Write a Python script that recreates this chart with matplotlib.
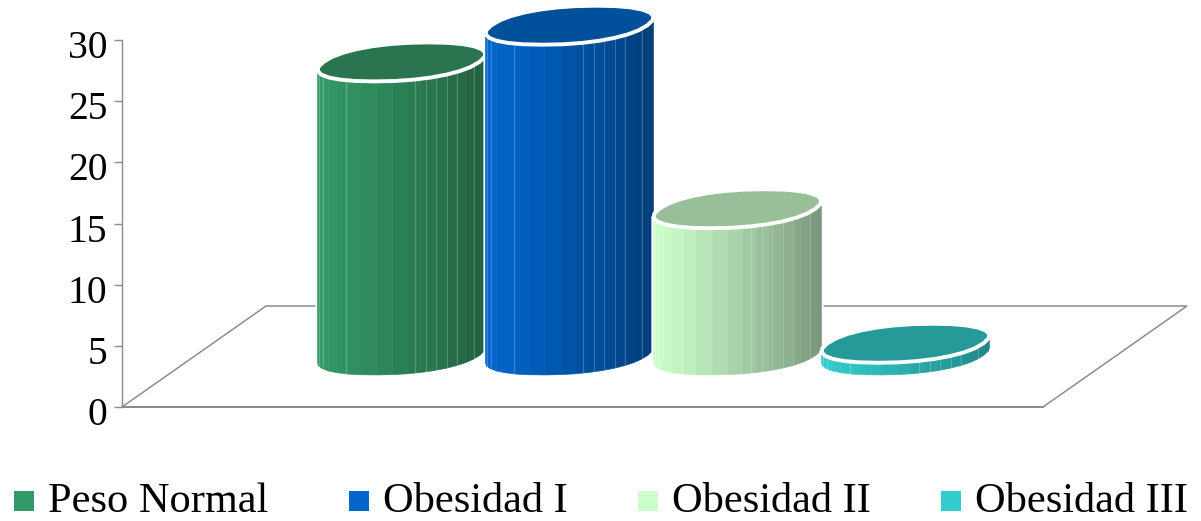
import matplotlib
matplotlib.use('Agg')
import matplotlib.pyplot as plt
from matplotlib.patches import Polygon, Rectangle
from matplotlib.transforms import ScaledTranslation
import numpy as np

categories = ['Peso Normal', 'Obesidad I', 'Obesidad II', 'Obesidad III']
values = [24, 27, 12, 1]
y_ticks = [0, 5, 10, 15, 20, 25, 30]

# colores: cara clara, cara oscura, tapa
light = ['#339966', '#0066CC', '#CCFFCC', '#33CCCC']
dark = ['#225F40', '#003C78', '#78967A', '#1F8585']
top = ['#2A7550', '#00509C', '#99BF99', '#269999']

W, H = 1201, 521
DPI = 100
px_x0, px_x1 = 122, 1187      # ancho de los ejes en pixeles
px_y0, px_y1 = 407, 40        # y=0 y y=30
step = 168.0                  # pixeles entre barras
first = 401.5                 # centro de la primera barra
px_unit = (px_y0 - px_y1) / 30

plt.rcParams['font.family'] = ['Liberation Serif', 'DejaVu Serif']

fig = plt.figure(figsize=(W / DPI, H / DPI), dpi=DPI)
ax = fig.add_axes([px_x0 / W, 1 - px_y0 / H, (px_x1 - px_x0) / W, (px_y0 - px_y1) / H])
ax.set_xlim((px_x0 - first) / step, (px_x1 - first) / step)
ax.set_ylim(0, 30)

# piso en perspectiva
depth_x = 144 / step
depth_y = 101 / px_unit
xa, xb = ax.get_xlim()
floor_x = [xb - depth_x, xa, xa + depth_x, xb, xb - depth_x, xa]
floor_y = [0, 0, depth_y, depth_y, 0, 0]
ax.plot(floor_x, floor_y, color='#8C8C8C', lw=1.1, clip_on=False, zorder=1, solid_joinstyle='miter')

# semiejes de la base del cilindro (proyeccion oblicua del circulo)
rx = 78 / step
sx = 27 / step
ry = 19.5 / px_unit
base = 51.5 / px_unit
power = 0.9                   # extremos algo romos
seam_pos = np.array([-0.98, -0.93, -0.66, 0.16, 0.29, 0.41, 0.54, 0.66, 0.86])


def outline(t):
    c = np.cos(t)
    s = np.sin(t)
    c = np.sign(c) * np.abs(c) ** power
    s = np.sign(s) * np.abs(s) ** power
    return rx * c + sx * s, ry * s


def cylinder(i, val, z):
    # borde visible: del extremo izquierdo al derecho pasando por el frente
    fine = np.linspace(0, 2 * np.pi, 721)
    fx, _ = outline(fine)
    t_right = fine[np.argmax(fx)]
    t_left = fine[np.argmin(fx)]
    if t_left < np.pi:
        t_left += 2 * np.pi
    t = np.linspace(t_left, t_right + 2 * np.pi, 19)
    dx, dy = outline(t)
    xs = i + dx
    y_bot = base + dy
    y_top = base + val + dy

    # silueta blanca que separa la barra de la anterior
    sil = list(zip(xs, y_top)) + list(zip(xs[::-1], y_bot[::-1]))
    ax.add_patch(Polygon(sil, closed=True, fc='white', ec='white', lw=3.0, zorder=z, clip_on=False))

    c0 = np.array(matplotlib.colors.to_rgb(light[i]))
    c1 = np.array(matplotlib.colors.to_rgb(dark[i]))
    mids = (dx[:-1] + dx[1:]) / 2
    frac = (mids - dx[0]) / (dx[-1] - dx[0])
    for k in range(len(xs) - 1):
        col = c0 + (c1 - c0) * frac[k] ** 1.2
        quad = [(xs[k], y_top[k]), (xs[k + 1], y_top[k + 1]), (xs[k + 1], y_bot[k + 1]), (xs[k], y_bot[k])]
        ax.add_patch(Polygon(quad, closed=True, fc=col, ec=col, lw=0.4, zorder=z + 0.1, clip_on=False))

    # lineas claras entre algunas caras
    half = dx[-1]
    for p in seam_pos:
        xp = p * half
        yp = np.interp(xp, dx, dy)
        ax.plot([i + xp, i + xp], [base + yp, base + val + yp], color='white', alpha=0.22,
                lw=0.8, zorder=z + 0.2, clip_on=False)

    # tapa
    tt = np.linspace(0, 2 * np.pi, 29)
    cx, cy = outline(tt)
    ax.add_patch(Polygon(list(zip(i + cx, base + val + cy)), closed=True, fc=top[i], ec='white',
                         lw=2.8, zorder=z + 0.3, clip_on=False, joinstyle='round'))


for i, v in enumerate(values):
    cylinder(i, v, 2 + i)

ax.set_xticks([])
ax.set_yticks(y_ticks)
ax.tick_params(axis='y', labelsize=28.5, length=5.5, width=1.0, color='#8C8C8C', pad=5, labelcolor='black')
offset = ScaledTranslation(0, -4 / DPI, fig.dpi_scale_trans)
for lab in ax.get_yticklabels():
    lab.set_transform(lab.get_transform() + offset)
for s in ['top', 'right', 'bottom']:
    ax.spines[s].set_visible(False)
ax.spines['left'].set_color('#8C8C8C')
ax.spines['left'].set_linewidth(1.0)
ax.patch.set_alpha(0)

# leyenda
legend_x = [14, 349, 638, 941]
legend_y = 501
box = 20
for name, col, lx in zip(categories, light, legend_x):
    fig.add_artist(Rectangle((lx / W, 1 - (legend_y + box / 2) / H), box / W, box / H,
                             transform=fig.transFigure, fc=col, ec='none'))
    fig.text((lx + 34) / W, 1 - 512 / H, name, fontsize=30.5, color='black', ha='left', va='baseline')

fig.savefig('out.png', dpi=DPI)
